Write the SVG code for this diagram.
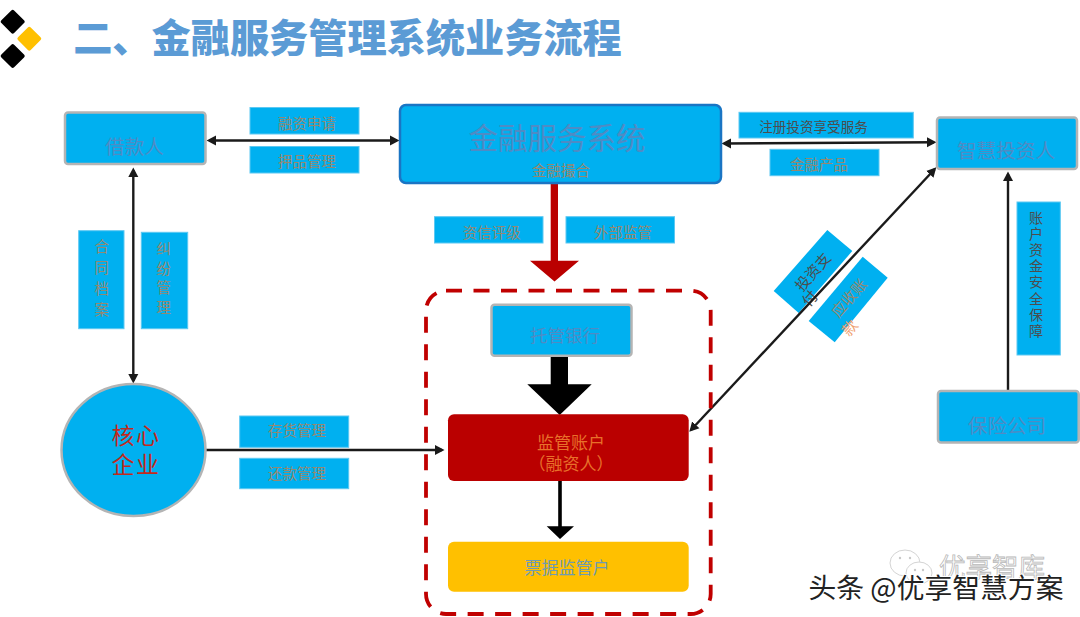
<svg xmlns="http://www.w3.org/2000/svg" width="1080" height="617" viewBox="0 0 1080 617">
<style>
text{font-family:"Noto Sans CJK SC","Liberation Serif",serif;text-anchor:middle;dominant-baseline:central}
.lb{fill:#00b0f0;stroke:#5cc8f2;stroke-width:1}
.lt{font-size:14.5px;fill:#96886f}
.dk{font-size:13.6px;fill:#4d4d4d}
.vt{writing-mode:vertical-rl}
.nd{fill:#00b0f0;stroke:#b4b4b4;stroke-width:2.5}
.nt{font-size:19.6px;fill:#4f8bc4}
.cn{stroke:#1a1a1a;stroke-width:2.4;fill:none}
</style>
<defs>
<marker id="ah" markerUnits="userSpaceOnUse" markerWidth="12" markerHeight="12" refX="7" refY="5.500" orient="auto-start-reverse"><path d="M0 0.500L9.500 5.500L0 10.500Z" fill="#1a1a1a"/></marker>
</defs>
<g id="logo">
<rect x="3.700" y="12.700" width="18" height="18" rx="2" transform="rotate(45 12.700 21.700)" fill="#000"/>
<rect x="20.300" y="29.700" width="18" height="18" rx="2" transform="rotate(45 29.300 38.700)" fill="#ffc000"/>
<rect x="3.700" y="47" width="18" height="18" rx="2" transform="rotate(45 12.700 56)" fill="#000"/>
</g>
<text id="title" x="347.500" y="34.500" style="font-size:39.200px;font-weight:900;fill:#5b9bd5">二、金融服务管理系统业务流程</text>
<g id="label-rongzi"><rect class="lb" x="250" y="107.500" width="109" height="26.500"/><text class="lt" x="307" y="122">融资申请</text></g>
<g id="label-yapin"><rect class="lb" x="250" y="146.500" width="109" height="26.500"/><text class="lt" x="307" y="160">押品管理</text></g>
<g id="label-zixin"><rect class="lb" x="434.500" y="216.700" width="108.500" height="26.300"/><text class="lt" x="491.700" y="231">资信评级</text></g>
<g id="label-waibu"><rect class="lb" x="566" y="216.700" width="108.500" height="26.300"/><text class="lt" x="623" y="231">外部监管</text></g>
<g id="label-zhuce"><rect class="lb" x="739" y="112.300" width="174.300" height="25.700"/><text class="dk" x="813.500" y="126">注册投资享受服务</text></g>
<g id="label-jinrong"><rect class="lb" x="770" y="149.300" width="109" height="26.400"/><text class="lt" x="819" y="163">金融产品</text></g>
<g id="label-hetong"><rect class="lb" x="78.700" y="230.700" width="45.300" height="98"/>
<text class="lt vt" x="101.700" y="281" style="letter-spacing:6.500px">合同档案</text></g>
<g id="label-jiufen"><rect class="lb" x="141.300" y="232.300" width="46.400" height="96.400"/>
<text class="lt vt" x="163.700" y="280.500" style="letter-spacing:5px">纠纷管理</text></g>
<g id="label-cunhuo"><rect class="lb" x="239.700" y="416" width="109" height="31.300"/><text class="lt" x="297" y="429.500">存货管理</text></g>
<g id="label-huankuan"><rect class="lb" x="239.700" y="458.300" width="109" height="30.400"/><text class="lt" x="297" y="472">还款管理</text></g>
<g id="label-zhanghu"><rect class="lb" x="1017" y="202" width="43.300" height="153"/>
<text class="dk vt" x="1036" y="275" style="font-size:14px;letter-spacing:2.200px">账户资金安全保障</text></g>
<g id="label-touzi"><polygon points="827.300,230 852.300,251 798.700,313 773.700,291" fill="#00b0f0"/>
<text class="dk" transform="translate(811.700 271) rotate(-49)" style="font-size:15px"><tspan x="0" y="0">投资支</tspan><tspan x="-22" y="15">付</tspan></text></g>
<g id="label-yingshou"><polygon points="862.700,256.700 887.700,277.700 834.700,342.300 808.700,321" fill="#00b0f0"/>
<text class="lt" transform="translate(848 297) rotate(-49)" style="font-size:15px"><tspan x="0" y="0">应收账</tspan><tspan x="-22" y="20" fill="#f0a070">款</tspan></text></g>
<g id="connectors">
<line class="cn" x1="209" y1="140.500" x2="397" y2="140.500" marker-start="url(#ah)" marker-end="url(#ah)"/>
<line class="cn" x1="724" y1="143.500" x2="934" y2="142.300" marker-start="url(#ah)" marker-end="url(#ah)"/>
<line class="cn" x1="133.300" y1="170" x2="133.300" y2="381" marker-start="url(#ah)" marker-end="url(#ah)"/>
<line class="cn" x1="691" y1="430" x2="934.600" y2="169.200" marker-start="url(#ah)" marker-end="url(#ah)"/>
<line class="cn" x1="1008" y1="391" x2="1008" y2="174" marker-end="url(#ah)"/>
<line class="cn" x1="206" y1="450" x2="442" y2="450" marker-end="url(#ah)"/>
<polygon points="550.700,183 558,183 558,260.700 579,260.700 554.500,281.500 530,260.700 550.700,260.700" fill="#ba0000"/>
<polygon points="550.700,356 568,356 568,384.300 591.700,384.300 559.700,415 527.300,384.300 550.700,384.300" fill="#000"/>
<polygon points="558.200,481 561.800,481 561.800,526.300 574,526.300 560,539 546.700,526.300 558.200,526.300" fill="#000"/>
</g>
<g id="frame"><rect x="426" y="290.700" width="284.700" height="323.300" rx="20" fill="none" stroke="#c00000" stroke-width="3.800" stroke-dasharray="16 11.500"/></g>
<g id="node-jiekuan"><rect class="nd" x="65" y="112.500" width="140.500" height="51.500" rx="3"/><text class="nt" x="134.500" y="145">借款人</text></g>
<g id="node-system"><rect x="400" y="105" width="321" height="78" rx="6" fill="#00b0f0" stroke="#1a75c4" stroke-width="2.500"/><text x="557" y="136" style="font-size:29.500px;fill:#4f8bc4">金融服务系统</text><text class="lt" x="561" y="169">金融撮合</text></g>
<g id="node-investor"><rect class="nd" x="937" y="117.500" width="140" height="51.500" rx="3"/><text class="nt" x="1006" y="149.500">智慧投资人</text></g>
<g id="node-insurance"><rect class="nd" x="938" y="391" width="140.700" height="51.500" rx="3"/><text class="nt" x="1007" y="424">保险公司</text></g>
<g id="node-core"><ellipse cx="133.500" cy="450" rx="72" ry="66" fill="#00b0f0" stroke="#b4b4b4" stroke-width="2.500"/><text style="font-size:23px;fill:#c02a1c;letter-spacing:1.500px"><tspan x="136" y="434">核心</tspan><tspan x="136" y="463">企业</tspan></text></g>
<g id="node-bank"><rect class="nd" x="491.500" y="304.800" width="140" height="51" rx="3"/><text x="565" y="334.500" style="font-size:17.500px;fill:#4f8bc4">托管银行</text></g>
<g id="node-account"><rect x="448" y="414.300" width="240.700" height="66.700" rx="6" fill="#ba0000"/><text style="font-size:17px;fill:#e8702a"><tspan x="571" y="440.500">监管账户</tspan><tspan x="571" y="461.500">（融资人）</tspan></text></g>
<g id="node-bill"><rect x="448" y="541.700" width="240.700" height="50" rx="6" fill="#ffc000"/><text x="567" y="566" style="font-size:17px;fill:#6f9bb0">票据监管户</text></g>
<g id="watermark">
<ellipse cx="905" cy="563" rx="15" ry="13" fill="#fff" stroke="#d4d4d4" stroke-width="1"/>
<ellipse cx="919" cy="573" rx="13" ry="11" fill="#fff" stroke="#d4d4d4" stroke-width="1"/>
<circle cx="900" cy="558" r="1.200" fill="#c8c8c8"/><circle cx="910" cy="558" r="1.200" fill="#c8c8c8"/>
<circle cx="915" cy="570" r="1.200" fill="#c8c8c8"/><circle cx="923" cy="570" r="1.200" fill="#c8c8c8"/>
<text x="992" y="565" style="font-size:26.500px;fill:#fff;stroke:#b8b8b8;stroke-width:.8">优享智库</text>
<text x="936" y="585.500" style="font-size:27.800px;fill:#222;stroke:#fff;stroke-width:2;paint-order:stroke">头条 @优享智慧方案</text>
</g>
</svg>
